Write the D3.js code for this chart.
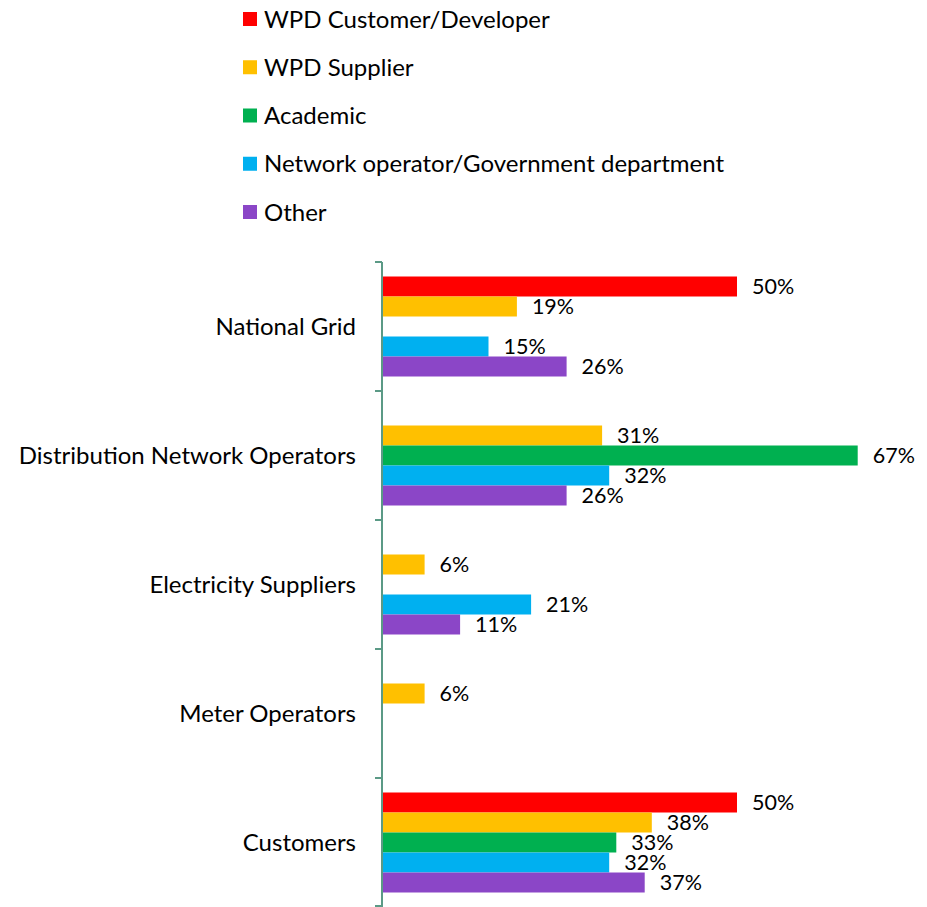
<!DOCTYPE html>
<html><head><meta charset="utf-8">
<script src="https://cdn.jsdelivr.net/npm/d3@7"></script>
<style>body{margin:0;background:#fff}svg{display:block}text{font-family:Lato,"Open Sans",sans-serif;fill:#000}</style>
</head><body>
<script>
const categories = ["National Grid","Distribution Network Operators","Electricity Suppliers","Meter Operators","Customers"];
const seriesNames = ["WPD Customer/Developer","WPD Supplier","Academic","Network operator/Government department","Other"];
const seriesColors = ["#FF0000","#FFC000","#00B050","#00B0F0","#8B46C7"];
const customerDeveloper = [0.50, null, null, null, 0.50];
const supplier = [0.19, 0.31, 0.06, 0.06, 0.38];
const academic = [null, 0.67, null, null, 0.33];
const networkOperator = [0.15, 0.32, 0.21, null, 0.32];
const other = [0.26, 0.26, 0.11, null, 0.37];
const seriesValues = [customerDeveloper, supplier, academic, networkOperator, other];

const W = 927, H = 907;
const svg = d3.select("body").append("svg").attr("width", W).attr("height", H);

const x = d3.scaleLinear().domain([0, 0.7]).range([382, 879]);
const y = d3.scaleBand().domain(categories).range([262, 907]).paddingInner(0).paddingOuter(0);
const inner = d3.scaleBand().domain(seriesNames).range([0, y.bandwidth()]).paddingInner(0).paddingOuter(0.725);

const fs = 24;
const vfs = 21.5;

// bars
seriesNames.forEach((s, si) => {
  const data = categories.map((c, ci) => ({c, v: seriesValues[si][ci]})).filter(d => d.v != null);
  const g = svg.append("g");
  g.selectAll("rect").data(data).join("rect")
    .attr("x", x(0) + 1)
    .attr("y", d => y(d.c) + inner(s))
    .attr("width", d => x(d.v) - x(0) - 1)
    .attr("height", inner.bandwidth())
    .attr("fill", seriesColors[si]);
  g.selectAll("text").data(data).join("text")
    .attr("x", d => x(d.v) + 15)
    .attr("y", d => y(d.c) + inner(s) + inner.bandwidth() / 2)
    .attr("dy", "0.36em")
    .attr("font-size", vfs)
    .text(d => d3.format(".0%")(d.v));
});

// axis
const ag = svg.append("g").attr("transform", `translate(${x(0)},0)`);
ag.append("line").attr("x1", 0).attr("x2", 0).attr("y1", 262).attr("y2", 907).attr("stroke", "#5B9A86").attr("stroke-width", 2);
const tickYs = categories.map(c => y(c)).concat([y.range()[1] - 1]);
ag.selectAll("line.tk").data(tickYs).join("line").attr("class", "tk")
  .attr("x1", -7).attr("x2", 0).attr("y1", d => d).attr("y2", d => d)
  .attr("stroke", "#5B9A86").attr("stroke-width", 2);
ag.selectAll("text.cat").data(categories).join("text").attr("class", "cat")
  .attr("x", -26).attr("y", d => y(d) + y.bandwidth() / 2).attr("dy", "0.36em")
  .attr("text-anchor", "end").attr("font-size", fs).text(d => d);

// legend
const leg = svg.append("g");
const legY = d3.scalePoint().domain(seriesNames).range([19, 212]);
seriesNames.forEach((s, i) => {
  leg.append("rect").attr("x", 243).attr("y", legY(s) - 7).attr("width", 14).attr("height", 14).attr("fill", seriesColors[i]);
  leg.append("text").attr("x", 264).attr("y", legY(s)).attr("dy", "0.36em").attr("font-size", fs).text(s);
});
</script>
</body></html>
